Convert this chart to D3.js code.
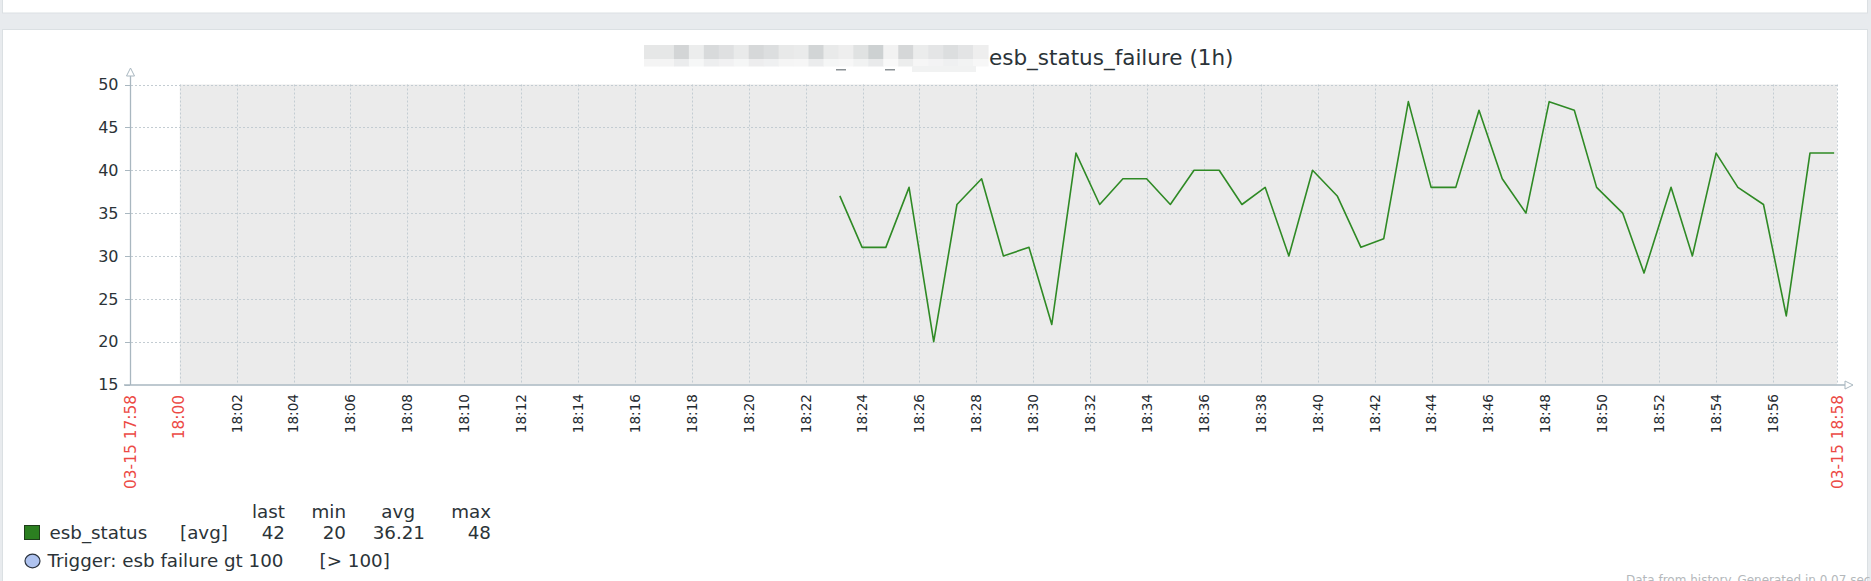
<!DOCTYPE html>
<html>
<head>
<meta charset="utf-8">
<script src="https://cdn.jsdelivr.net/npm/d3@7"></script>
<style>
  html, body { margin: 0; padding: 0; background: #ffffff; }
  svg { display: block; font-family: "DejaVu Sans", sans-serif; }
</style>
</head>
<body>
<svg id="chart" width="1871" height="581"></svg>
<script>
// ---------- data ----------
const seriesName = "esb_status";
const titleText = "esb_status_failure (1h)";
const pointTimes = [
  "18:23:12","18:23:59","18:24:49","18:25:38","18:26:30","18:27:19","18:28:11","18:28:57",
  "18:29:51","18:30:39","18:31:30","18:32:20","18:33:09","18:33:59","18:34:49","18:35:39",
  "18:36:32","18:37:20","18:38:09","18:38:59","18:39:49","18:40:41","18:41:31","18:42:19",
  "18:43:11","18:43:59","18:44:51","18:45:40","18:46:29","18:47:19","18:48:08","18:49:01",
  "18:49:48","18:50:43","18:51:28","18:52:25","18:53:10","18:54:00","18:54:46","18:55:40",
  "18:56:28","18:57:18","18:58:09"
];
const pointValues = [
  37,31,31,38,20,36,39,30,
  31,22,42,36,39,39,36,40,
  40,36,38,30,40,37,31,32,
  48,38,38,47,39,35,48,47,
  38,35,28,38,30,42,38,36,
  23,42,42
];
const yTicks = [15,20,25,30,35,40,45,50];
const xTickLabels = ["18:02","18:04","18:06","18:08","18:10","18:12","18:14","18:16","18:18","18:20",
  "18:22","18:24","18:26","18:28","18:30","18:32","18:34","18:36","18:38","18:40",
  "18:42","18:44","18:46","18:48","18:50","18:52","18:54","18:56"];
const periodStart = "17:58:15";
const periodEnd = "18:58:15";
const workStart = "18:00:00";
const edgeLabels = [
  {t: "17:58:15", text: "03-15 17:58"},
  {t: "18:00:00", text: "18:00"},
  {t: "18:58:15", text: "03-15 18:58"}
];
const legendHeaders = ["last","min","avg","max"];
const legendStats = ["42","20","36.21","48"];
const triggerText = "Trigger: esb failure gt 100";
const triggerCond = "[> 100]";
const footerText = "Data from history. Generated in 0.07 sec";
const mosaicShades = ["#e6e7e7","#e6e7e7","#d3d5d6","#eceded","#d8dadb","#dfe0e1","#e9eaea","#d6d8d9",
  "#dcdedf","#e8e9e9","#eaebeb","#d2d5d6","#e9eaea","#eeeeee","#e0e2e2","#cdd1d2","#f2f2f2",
  "#d5d7d8","#ebecec","#e4e5e6","#dcdedf","#e3e4e5","#eeeeee"];

// ---------- setup ----------
const svg = d3.select("#chart");
const parse = s => { const [h,m,sec] = s.split(":").map(Number); return new Date(2024, 2, 15, h, m, sec||0); };

const x = d3.scaleTime().domain([parse(periodStart), parse(periodEnd)]).range([130, 1837]);
const y = d3.scaleLinear().domain([15, 50]).range([384.5, 84.5]);

// page frame
svg.append("rect").attr("x",0).attr("y",0).attr("width",1871).attr("height",581).attr("fill","#e8ebee");
svg.append("rect").attr("x",2.5).attr("y",-2).attr("width",1865).attr("height",15).attr("fill","#fff").attr("stroke","#dbe0e3");
svg.append("rect").attr("x",2.5).attr("y",29.5).attr("width",1865).attr("height",560).attr("fill","#fff").attr("stroke","#dbe0e3");

// title (blurred prefix as mosaic)
const mos = svg.append("g");
const mosX0 = 644, mosW = 344 / mosaicShades.length;
mosaicShades.forEach((c,i) => {
  mos.append("rect").attr("x", mosX0 + i*mosW).attr("y", 45).attr("width", mosW + 0.6).attr("height", 14).attr("fill", c);
  mos.append("rect").attr("x", mosX0 + i*mosW).attr("y", 59).attr("width", mosW + 0.6).attr("height", 7.5)
    .attr("fill", d3.interpolateRgb(c, "#ffffff")(0.55));
});
mos.append("rect").attr("x", 912).attr("y", 66).attr("width", 64).attr("height", 6).attr("fill", "#f1f2f2");
mos.append("rect").attr("x", 836).attr("y", 69).attr("width", 10).attr("height", 1.5).attr("fill", "#8a9094");
mos.append("rect").attr("x", 885).attr("y", 69).attr("width", 10).attr("height", 1.5).attr("fill", "#8a9094");
svg.append("text").attr("x", 989).attr("y", 65).attr("font-size", 21.5).attr("fill", "#2b3338").text(titleText);

// working-time background
svg.append("rect").attr("x", x(parse(workStart))).attr("y", y(50))
  .attr("width", x(parse(periodEnd)) - x(parse(workStart))).attr("height", y(15) - y(50))
  .attr("fill", "#ebebeb");

// grid
const grid = svg.append("g").attr("stroke", "#c3ccd2").attr("stroke-width", 1).attr("stroke-dasharray", "2,2");
yTicks.filter(v => v > 15).forEach(v => {
  grid.append("line").attr("x1", 131).attr("x2", x(parse(periodEnd))).attr("y1", Math.round(y(v))+0.5).attr("y2", Math.round(y(v))+0.5);
});
const vGridTimes = ["18:00"].concat(xTickLabels).map(s => parse(s + ":00")).concat([parse(periodEnd)]);
vGridTimes.forEach(t => {
  const xx = Math.round(x(t)) + 0.5;
  grid.append("line").attr("x1", xx).attr("x2", xx).attr("y1", y(50)).attr("y2", y(15));
});

// axes
const axisColor = "#a9b7c0";
svg.append("line").attr("x1", 130.5).attr("x2", 130.5).attr("y1", 76).attr("y2", 385).attr("stroke", axisColor).attr("stroke-width", 1.3);
svg.append("path").attr("d", "M130.5,68 L134.5,76 L126.5,76 Z").attr("fill", "#fff").attr("stroke", axisColor);
svg.append("line").attr("x1", 124).attr("x2", 1845).attr("y1", 385).attr("y2", 385).attr("stroke", axisColor).attr("stroke-width", 1.3);
svg.append("path").attr("d", "M1845,381 L1853,385 L1845,389 Z").attr("fill", "#fff").attr("stroke", axisColor);

// y tick labels + ticks
const yAx = svg.append("g");
yTicks.forEach(v => {
  yAx.append("line").attr("x1", 125).attr("x2", 130).attr("y1", Math.round(y(v))+0.5).attr("y2", Math.round(y(v))+0.5).attr("stroke", axisColor);
  yAx.append("text").attr("x", 118.5).attr("y", y(v)).attr("dy", "0.36em").attr("text-anchor", "end")
    .attr("font-size", 16).attr("fill", "#2b3338").text(v);
});

// x tick labels
const xAx = svg.append("g");
xTickLabels.forEach(s => {
  const xx = x(parse(s + ":00"));
  xAx.append("text").attr("transform", `translate(${xx},394) rotate(-90)`).attr("dy", "0.36em")
    .attr("text-anchor", "end").attr("font-size", 13.6).attr("fill", "#1f2a30").text(s);
});
edgeLabels.forEach(d => {
  const xx = x(parse(d.t));
  xAx.append("text").attr("transform", `translate(${xx - (d.text === "18:00" ? 1.5 : 0)},395) rotate(-90)`).attr("dy", "0.36em")
    .attr("text-anchor", "end").attr("font-size", 15.4).attr("fill", "#ec4a45").text(d.text);
});

// data line
const pts = pointTimes.map((t,i) => ({t: parse(t), v: pointValues[i]}));
svg.append("path").datum(pts)
  .attr("d", d3.line().x(d => x(d.t)).y(d => y(d.v)))
  .attr("fill", "none").attr("stroke", "#2f8a25").attr("stroke-width", 1.6).attr("stroke-linejoin", "round");

// legend
const lg = svg.append("g").attr("font-size", 18.3).attr("fill", "#2b3338");
const headerRight = [285, 346, 415, 491];
legendHeaders.forEach((h,i) => lg.append("text").attr("x", headerRight[i]).attr("y", 518).attr("text-anchor","end").text(h));
lg.append("rect").attr("x", 24.5).attr("y", 525.5).attr("width", 15).attr("height", 14).attr("fill", "#2b7f20").attr("stroke", "#1e3d1a");
lg.append("text").attr("x", 49.5).attr("y", 538.5).text(seriesName);
lg.append("text").attr("x", 180).attr("y", 538.5).text("[avg]");
const statRight = [285, 346, 425, 491];
legendStats.forEach((s,i) => lg.append("text").attr("x", statRight[i]).attr("y", 538.5).attr("text-anchor","end").text(s));
lg.append("ellipse").attr("cx", 32.5).attr("cy", 561).attr("rx", 7.5).attr("ry", 6.8).attr("fill", "#afc3f0").attr("stroke", "#2c3440").attr("stroke-width", 1.2);
lg.append("text").attr("x", 47.5).attr("y", 567).text(triggerText);
lg.append("text").attr("x", 319.5).attr("y", 567).text(triggerCond);

// footer
svg.append("text").attr("x", 1626).attr("y", 584).attr("font-size", 12).attr("fill", "#b4b8bb").text(footerText);
</script>
</body>
</html>
